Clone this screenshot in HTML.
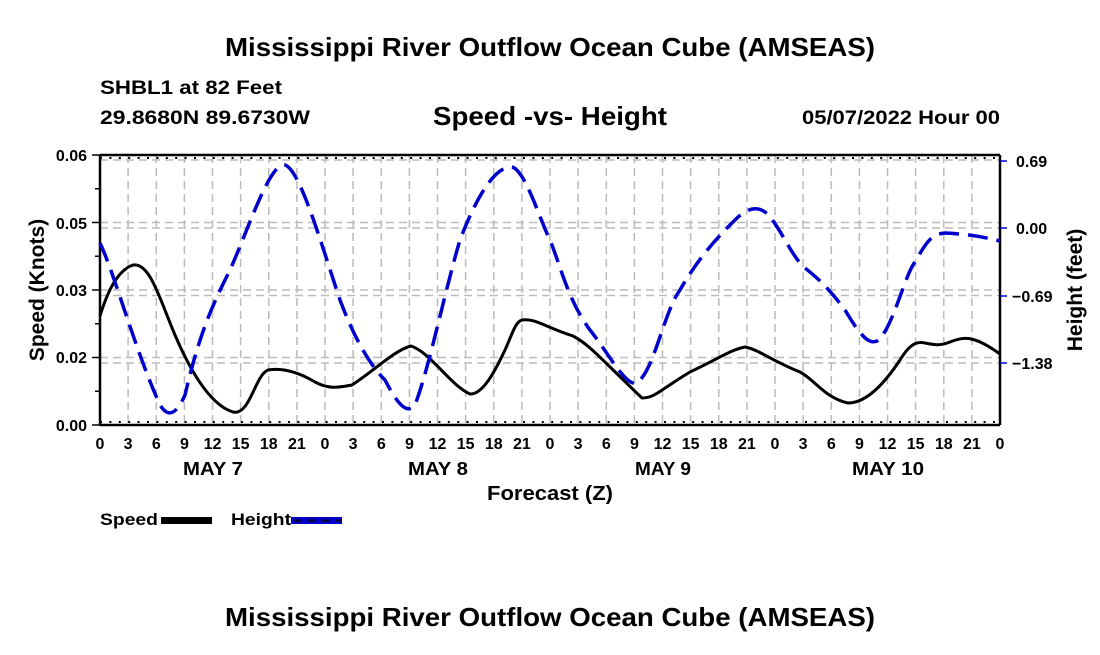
<!DOCTYPE html>
<html><head><style>
body{margin:0;background:#fff;}
svg text{font-family:"Liberation Sans",sans-serif;font-weight:bold;}
</style></head><body>
<svg width="1100" height="650" xmlns="http://www.w3.org/2000/svg">
<rect width="1100" height="650" fill="#fff"/>
<text x="225" y="56" font-size="26" textLength="650" lengthAdjust="spacingAndGlyphs">Mississippi River Outflow Ocean Cube (AMSEAS)</text>
<text x="225" y="626" font-size="26" textLength="650" lengthAdjust="spacingAndGlyphs">Mississippi River Outflow Ocean Cube (AMSEAS)</text>
<text x="100" y="94" font-size="19" textLength="182" lengthAdjust="spacingAndGlyphs">SHBL1 at 82 Feet</text>
<text x="100" y="124" font-size="19" textLength="210" lengthAdjust="spacingAndGlyphs">29.8680N  89.6730W</text>
<text x="433" y="125" font-size="26" textLength="234" lengthAdjust="spacingAndGlyphs">Speed -vs- Height</text>
<text x="802" y="124" font-size="19" textLength="198" lengthAdjust="spacingAndGlyphs">05/07/2022 Hour 00</text>
<g stroke="#bbb" stroke-width="1.5" stroke-dasharray="8,5" fill="none">
<path d="M100 160H1000M100 222.5H1000M100 290H1000M100 357.5H1000M100 228H1000M100 295.5H1000M100 363H1000"/>
<path d="M128.1 155V425M156.3 155V425M184.4 155V425M212.5 155V425M240.6 155V425M268.8 155V425M296.9 155V425M325 155V425M353.1 155V425M381.3 155V425M409.4 155V425M437.5 155V425M465.6 155V425M493.8 155V425M521.9 155V425M550 155V425M578.1 155V425M606.3 155V425M634.4 155V425M662.5 155V425M690.6 155V425M718.8 155V425M746.9 155V425M775 155V425M803.1 155V425M831.3 155V425M859.4 155V425M887.5 155V425M915.6 155V425M943.8 155V425M971.9 155V425"/>
</g>
<g stroke="#000" stroke-width="2.5" fill="none">
<path d="M100 155H1000M100 425H1000M100 155V425M1000 155V425"/>
</g>
<g stroke="#000" stroke-width="2" stroke-dasharray="2,7.4" fill="none">
<path d="M100 158H1000M100 422H1000"/>
</g>
<g stroke="#000" stroke-width="1.5">
<path d="M92 155H100M92 222.5H100M92 290H100M92 357.5H100M92 425H100M95 188.8H100M95 256.3H100M95 323.8H100M95 391.3H100"/>
</g>
<g stroke="#00c" stroke-width="1.5">
<path d="M1000 161H1007M1000 228H1007M1000 296H1007M1000 363H1007"/>
</g>
<g font-size="16" text-anchor="end">
<text x="87" y="161">0.06</text><text x="87" y="229">0.05</text><text x="87" y="296">0.03</text><text x="87" y="363">0.02</text><text x="87" y="431">0.00</text>
</g>
<g font-size="16">
<text x="1016" y="167">0.69</text><text x="1016" y="234">0.00</text><text x="1012" y="302">−0.69</text><text x="1012" y="369">−1.38</text>
</g>
<g font-size="16" text-anchor="middle">
<text x="100" y="449">0</text><text x="128.1" y="449">3</text><text x="156.3" y="449">6</text><text x="184.4" y="449">9</text><text x="212.5" y="449">12</text><text x="240.6" y="449">15</text><text x="268.8" y="449">18</text><text x="296.9" y="449">21</text>
<text x="325" y="449">0</text><text x="353.1" y="449">3</text><text x="381.3" y="449">6</text><text x="409.4" y="449">9</text><text x="437.5" y="449">12</text><text x="465.6" y="449">15</text><text x="493.8" y="449">18</text><text x="521.9" y="449">21</text>
<text x="550" y="449">0</text><text x="578.1" y="449">3</text><text x="606.3" y="449">6</text><text x="634.4" y="449">9</text><text x="662.5" y="449">12</text><text x="690.6" y="449">15</text><text x="718.8" y="449">18</text><text x="746.9" y="449">21</text>
<text x="775" y="449">0</text><text x="803.1" y="449">3</text><text x="831.3" y="449">6</text><text x="859.4" y="449">9</text><text x="887.5" y="449">12</text><text x="915.6" y="449">15</text><text x="943.8" y="449">18</text><text x="971.9" y="449">21</text>
<text x="1000" y="449">0</text>
</g>
<g font-size="18">
<text x="183" y="475" textLength="60" lengthAdjust="spacingAndGlyphs">MAY 7</text>
<text x="408" y="475" textLength="60" lengthAdjust="spacingAndGlyphs">MAY 8</text>
<text x="635" y="475" textLength="56" lengthAdjust="spacingAndGlyphs">MAY 9</text>
<text x="852" y="475" textLength="72" lengthAdjust="spacingAndGlyphs">MAY 10</text>
<text x="487" y="500" font-size="20" textLength="126" lengthAdjust="spacingAndGlyphs">Forecast (Z)</text>
</g>
<text transform="translate(44,290) rotate(-90)" font-size="21" text-anchor="middle">Speed (Knots)</text>
<text transform="translate(1082,290) rotate(-90)" font-size="21" text-anchor="middle">Height (feet)</text>
<text x="100" y="525" font-size="17" textLength="58" lengthAdjust="spacingAndGlyphs">Speed</text>
<path d="M161 520.5H212" stroke="#000" stroke-width="7"/>
<text x="231" y="525" font-size="17" textLength="60" lengthAdjust="spacingAndGlyphs">Height</text>
<path d="M291 520.5H342" stroke="#00c" stroke-width="7"/>
<path d="M293 520.5H342" stroke="#002" stroke-width="2" stroke-dasharray="9,5"/>
<path fill="none" stroke="#000" stroke-width="3" stroke-linejoin="round" d="M100 316 C108 290,118 270,133 265 C150 262,160 300,175 335 C190 370,210 405,233 412 C250 416,255 375,268 370 C280 368,295 370,315 382 C330 390,340 387,352 385 C375 370,395 350,411 346 C430 352,450 385,470 394 C485 395,500 360,505 350 C512 335,515 322,522 320 C535 318,545 327,573 336 C590 345,600 358,642 398 C655 398,660 390,690 372 C720 358,730 350,745 347 C760 350,770 360,800 372 C815 380,825 398,848 403 C870 403,890 375,900 360 C912 340,920 342,925 343 C935 345,940 346,950 342 C965 336,975 336,1000 354"/>
<path fill="none" stroke="#00c" stroke-width="3.5" stroke-dasharray="20,9" stroke-linejoin="round" d="M100 243 C115 275,135 350,160 405 C168 418,176 415,185 395 C200 330,215 300,230 270 C250 225,270 162,285 165 C300 170,320 240,340 300 C355 340,370 365,385 380 C398 405,407 415,415 405 C430 365,445 290,460 240 C475 200,495 165,512 167 C525 170,540 220,550 240 C562 270,568 300,590 330 C610 355,630 395,640 380 C655 365,665 310,680 290 C700 255,720 235,735 220 C745 210,755 205,765 212 C780 225,790 255,805 268 C820 280,830 290,845 310 C860 335,870 348,880 339 C895 320,905 275,915 262 C925 245,930 234,945 233 C965 234,980 236,1000 241"/>
</svg>
</body></html>
